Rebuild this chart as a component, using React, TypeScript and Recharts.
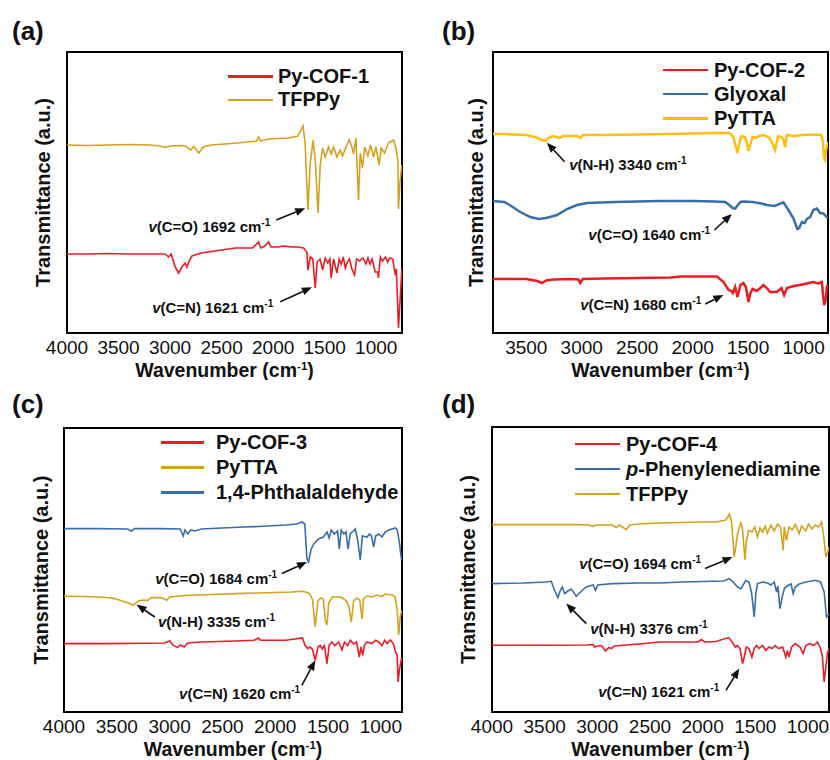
import {
  LineChart, Line, XAxis, YAxis, ReferenceArea, ReferenceLine, ReferenceDot, Legend,
} from 'recharts';

type Pt = [number, number];

const FONT = '"Liberation Sans", Arial, Helvetica, sans-serif';
const RED = '#ec1c24';
const GOLD = '#d4a21f';
const YELLOW = '#fdbf12';
const BLUE = '#3b6ea6';

const ticksWide = [4000, 3500, 3000, 2500, 2000, 1500, 1000];
const ticksNarrow = [3500, 3000, 2500, 2000, 1500, 1000];

// (a) Py-COF-1 / TFPPy
const pyCof1: Pt[] = [
  [4000, 79], [3800, 79], [3600, 79.5], [3400, 79], [3200, 79], [3050, 79], [3014, 76], [2990, 79],
  [2950, 66], [2917, 60], [2885, 66], [2853, 70], [2836, 66], [2815, 72], [2788, 77], [2700, 80],
  [2500, 83], [2367, 85], [2200, 85], [2142, 91], [2120, 85], [2080, 87], [2044, 91], [2020, 86],
  [1950, 86], [1900, 87], [1818, 86], [1760, 86], [1705, 85], [1673, 81], [1663, 63], [1640, 76],
  [1615, 74], [1592, 45], [1573, 71], [1545, 74], [1520, 63], [1495, 75], [1470, 70], [1450, 74],
  [1437, 55], [1414, 74], [1381, 60], [1360, 74], [1340, 69], [1320, 76], [1300, 65], [1280, 71],
  [1260, 74], [1236, 64], [1210, 58], [1190, 74], [1160, 72], [1130, 75], [1100, 69], [1080, 75],
  [1060, 69], [1040, 74], [1010, 61], [984, 61], [979, 55], [960, 76], [940, 72], [910, 76],
  [890, 71], [870, 75], [840, 74], [815, 58], [805, 64], [784, 5], [770, 30], [752, 63],
];
const tfppyA: Pt[] = [
  [4000, 188], [3800, 187.5], [3600, 188], [3400, 188.5], [3200, 188], [3100, 187], [3045, 185.5],
  [3000, 187], [2900, 187.5], [2850, 187], [2800, 183], [2770, 186.5], [2720, 180], [2680, 186],
  [2600, 188], [2400, 189.5], [2250, 191], [2160, 192], [2142, 196], [2120, 192], [2050, 194],
  [1950, 194.5], [1850, 195], [1760, 197], [1710, 207], [1690, 190], [1663, 123], [1640, 170],
  [1612, 193], [1590, 170], [1565, 120], [1543, 168], [1520, 185], [1495, 176], [1463, 186],
  [1437, 179], [1414, 186], [1381, 176], [1349, 183], [1327, 177], [1294, 186], [1262, 193],
  [1236, 186], [1220, 179], [1197, 195], [1172, 133], [1155, 180], [1133, 165], [1113, 186],
  [1081, 177], [1055, 188], [1026, 176], [1003, 186], [971, 168], [952, 185], [920, 180],
  [881, 190], [832, 193], [809, 185], [790, 172], [784, 124], [770, 150], [752, 168],
];

// (b) Py-COF-2 / Glyoxal / PyTTA
const pyCof2: Pt[] = [
  [3800, 54], [3700, 54], [3500, 54], [3400, 52], [3359, 50], [3320, 52.5], [3250, 53.5], [3100, 54],
  [3030, 53.5], [3014, 50], [2990, 54], [2800, 54.5], [2500, 55], [2200, 55.5], [2100, 56.5],
  [1900, 56.5], [1782, 56.5], [1722, 51], [1677, 43], [1650, 42], [1638, 40], [1617, 46], [1596, 36],
  [1570, 48], [1542, 50], [1520, 46], [1497, 31], [1482, 39], [1460, 44], [1422, 42], [1390, 45],
  [1362, 48], [1332, 45], [1302, 41], [1242, 41], [1200, 45], [1176, 38], [1150, 45], [1090, 47],
  [1032, 48], [970, 49.5], [912, 51], [870, 49.5], [836, 51], [815, 28], [800, 33], [791, 46], [780, 48],
];
const glyoxal: Pt[] = [
  [3800, 132], [3700, 131], [3650, 128], [3554, 121], [3464, 116], [3389, 114], [3320, 115],
  [3223, 118], [3133, 124], [3043, 128], [2950, 130], [2700, 131], [2293, 132], [2000, 132],
  [1800, 131.5], [1707, 131], [1670, 128], [1640, 125], [1617, 124.5], [1600, 127], [1570, 131],
  [1542, 131.5], [1460, 131], [1380, 129.5], [1332, 128], [1260, 127], [1182, 130.7], [1137, 123],
  [1092, 114.7], [1070, 108], [1056, 104], [1040, 105], [1016, 111], [990, 110], [970, 114],
  [941, 116], [912, 123], [880, 124.5], [851, 120], [822, 119.5], [780, 114.7],
];
const pyttaB: Pt[] = [
  [3800, 199], [3700, 199], [3600, 198.5], [3500, 198], [3420, 196], [3360, 193], [3329, 192],
  [3300, 195], [3260, 197], [3230, 196], [3194, 195], [3170, 197], [3100, 197], [3040, 197],
  [3014, 195], [2990, 198], [2800, 198], [2500, 198.5], [2200, 199], [2000, 199.5], [1800, 200],
  [1690, 200], [1662, 199.5], [1630, 195], [1596, 180], [1575, 192], [1557, 197], [1530, 196],
  [1510, 190], [1497, 182], [1482, 188], [1460, 196], [1430, 195], [1400, 197], [1362, 198],
  [1320, 196], [1290, 192], [1257, 183], [1230, 197], [1200, 196], [1180, 193], [1167, 186],
  [1150, 198], [1100, 197], [1000, 198], [900, 198.5], [840, 198], [827, 192], [815, 175],
  [806, 173], [797, 183], [780, 191],
];

// (c) Py-COF-3 / PyTTA / 1,4-Phthalaldehyde
const pyCof3: Pt[] = [
  [4000, 68.4], [3600, 68.4], [3200, 68.8], [3050, 69], [2997, 71], [2970, 67], [2924, 64.4],
  [2900, 67], [2880, 66], [2861, 65], [2830, 69], [2700, 70], [2380, 71], [2200, 71.7], [2159, 74],
  [2140, 71.7], [1900, 71.7], [1742, 74], [1720, 67], [1691, 63.4], [1670, 65], [1645, 62],
  [1622, 51.7], [1596, 65], [1575, 66.5], [1555, 63], [1535, 66.5], [1510, 48.4], [1490, 66.5],
  [1465, 70], [1435, 66.5], [1400, 70], [1368, 62], [1345, 70], [1315, 66.5], [1289, 71.7],
  [1260, 68], [1230, 70], [1204, 55], [1188, 65], [1172, 56.7], [1155, 67], [1130, 70],
  [1085, 68.4], [1050, 71.7], [1020, 70], [990, 66.5], [964, 71.7], [940, 68.4], [910, 72],
  [880, 68], [862, 60], [846, 57], [837, 30], [825, 42], [806, 53], [800, 54],
];
const pyttaC: Pt[] = [
  [4000, 115.7], [3800, 115.5], [3600, 114.5], [3519, 113.4], [3450, 111], [3377, 108.4],
  [3345, 106.7], [3298, 111], [3250, 112], [3210, 111.5], [3171, 114.4], [3080, 114.4],
  [3028, 111.7], [3000, 115], [2823, 116.7], [2600, 117.5], [2380, 118.4], [2159, 119],
  [2000, 119.5], [1842, 120], [1742, 120.7], [1700, 119.5], [1670, 118], [1647, 112], [1622, 85],
  [1596, 111], [1570, 114], [1545, 113], [1526, 92], [1510, 87], [1494, 109], [1460, 115],
  [1384, 115], [1350, 113], [1320, 110], [1300, 104], [1280, 90], [1258, 111], [1230, 114],
  [1200, 112], [1178, 93], [1165, 113], [1130, 116], [1085, 115], [1036, 117], [990, 115.5],
  [960, 118], [894, 117], [865, 115], [846, 103], [831, 77], [815, 96], [806, 100], [800, 101],
];
const phthalaldehyde: Pt[] = [
  [4000, 183.4], [3700, 183.4], [3400, 183], [3361, 181], [3330, 183.4], [3100, 183.4], [2900, 183],
  [2871, 176], [2855, 182], [2829, 178], [2800, 182], [2760, 181], [2700, 183], [2500, 184],
  [2300, 185], [2159, 185.5], [2080, 186], [1900, 187], [1800, 188], [1748, 190], [1720, 188],
  [1700, 153], [1685, 150], [1660, 163], [1635, 168], [1590, 173], [1545, 175], [1510, 180],
  [1490, 174], [1470, 182], [1440, 178], [1410, 181], [1394, 163], [1375, 182], [1350, 178],
  [1330, 180], [1311, 163], [1290, 178], [1260, 181], [1243, 183], [1220, 172], [1195, 152],
  [1175, 176], [1130, 175], [1109, 178], [1090, 176], [1068, 165], [1050, 176], [1020, 178],
  [989, 175], [960, 180], [926, 182], [862, 184], [845, 182], [825, 170], [806, 153], [800, 152],
];

// (d) Py-COF-4 / p-Phenylenediamine / TFPPy
const pyCof4: Pt[] = [
  [4000, 66.7], [3500, 66.7], [3100, 67], [3040, 67.5], [3027, 65], [3000, 66], [2960, 66.5],
  [2922, 61], [2890, 64.5], [2866, 63.4], [2840, 66], [2600, 68], [2410, 70], [2200, 70],
  [2045, 70], [2012, 72.5], [1980, 70], [1873, 70.5], [1754, 74.4], [1720, 70], [1690, 65],
  [1670, 66.5], [1645, 63.5], [1621, 48.4], [1605, 55], [1585, 65], [1560, 63.5], [1532, 55],
  [1510, 63.5], [1490, 66.5], [1465, 63.5], [1430, 66.5], [1400, 61.5], [1370, 65], [1340, 63.5],
  [1310, 66.5], [1280, 63.5], [1240, 65], [1210, 55], [1195, 61.5], [1180, 55], [1155, 65],
  [1120, 68.4], [1075, 65], [1046, 58.4], [1020, 66.5], [985, 68.4], [945, 66.5], [910, 70],
  [880, 63.5], [862, 55], [846, 30], [830, 45], [815, 58], [800, 64],
];
const phenylenediamine: Pt[] = [
  [4000, 128.4], [3700, 129], [3484, 130], [3437, 130.7], [3406, 121.7], [3374, 114.4], [3350, 122],
  [3333, 125], [3311, 118.4], [3280, 121], [3247, 123], [3200, 115.7], [3150, 121], [3105, 125],
  [3040, 127], [3017, 121.7], [2995, 127], [2853, 128.4], [2600, 129], [2410, 129], [2190, 130],
  [2000, 130.5], [1800, 131], [1747, 133.4], [1710, 130], [1668, 125], [1636, 123.4], [1610, 128],
  [1589, 131.5], [1560, 130], [1535, 119], [1510, 95], [1495, 118], [1479, 128.4], [1430, 130],
  [1385, 129], [1352, 127], [1320, 130], [1298, 120], [1285, 126], [1266, 103.4], [1245, 115],
  [1222, 124], [1190, 126.5], [1160, 128], [1140, 118.4], [1120, 125], [1083, 128], [1020, 130],
  [925, 131.7], [880, 130], [846, 120], [823, 95], [800, 98],
];
const tfppyD: Pt[] = [
  [4000, 187.4], [3600, 187.4], [3200, 187.4], [3080, 187], [3043, 185.7], [3010, 187], [2860, 187],
  [2821, 184.4], [2790, 187], [2726, 182.4], [2690, 187], [2600, 188], [2410, 189], [2200, 189.5],
  [2000, 190], [1873, 190], [1780, 192], [1747, 197.7], [1725, 190], [1700, 155], [1685, 165],
  [1668, 178.4], [1636, 190], [1620, 182], [1598, 152.4], [1585, 170], [1564, 181.7], [1530, 180],
  [1505, 185], [1479, 175], [1455, 184], [1430, 180], [1405, 186], [1385, 179], [1352, 186.7],
  [1320, 181], [1289, 188], [1260, 185], [1235, 161.7], [1225, 185], [1204, 171.7], [1180, 185],
  [1150, 182], [1120, 187.5], [1083, 178.4], [1060, 186], [1020, 181], [995, 188], [960, 183],
  [930, 187], [900, 185], [870, 190], [846, 172], [830, 155], [812, 160], [800, 165],
];

interface Series { name: string; color: string; points: Pt[] }
interface Note { bond: string; wn: string; tail: Pt; head: Pt; text: Pt; anchor: 'start' | 'end' }

const notesA: Note[] = [
  { bond: 'C=O', wn: '1692', tail: [1970, 113], head: [1689, 124.7], text: [2028, 101.5], anchor: 'end' },
  { bond: 'C=N', wn: '1621', tail: [1931, 31.3], head: [1624, 45.7], text: [1999, 19.7], anchor: 'end' },
];
const notesB: Note[] = [
  { bond: 'N-H', wn: '3340', tail: [3155, 171.3], head: [3314, 190.3], text: [3113, 163], anchor: 'start' },
  { bond: 'C=O', wn: '1640', tail: [1804, 103], head: [1647, 119], text: [1842, 93], anchor: 'end' },
  { bond: 'C=N', wn: '1680', tail: [1887, 29], head: [1723, 38], text: [1923, 23], anchor: 'end' },
];
const notesC: Note[] = [
  { bond: 'C=O', wn: '1684', tail: [1937, 138.4], head: [1700, 150], text: [1982, 128.4], anchor: 'end' },
  { bond: 'N-H', wn: '3335', tail: [3140, 95], head: [3313, 107.4], text: [3111, 85], anchor: 'start' },
  { bond: 'C=N', wn: '1620', tail: [1748, 26.7], head: [1621, 51.7], text: [1764, 13.4], anchor: 'end' },
];
const notesD: Note[] = [
  { bond: 'C=O', wn: '1694', tail: [1977, 143.4], head: [1716, 155], text: [2015, 143], anchor: 'end' },
  { bond: 'N-H', wn: '3376', tail: [3105, 88.4], head: [3295, 108.4], text: [3067, 78.4], anchor: 'start' },
  { bond: 'C=N', wn: '1621', tail: [1778, 21.7], head: [1652, 43.4], text: [1842, 15], anchor: 'end' },
];

const toRows = (pts: Pt[]) => pts.map(([wn, v]) => ({ wn, v }));

function Arrow({ x1, y1, x2, y2 }: any) {
  const ang = Math.atan2(y2 - y1, x2 - x1);
  const len = 10;
  const half = 4;
  const bx = x2 - len * Math.cos(ang);
  const by = y2 - len * Math.sin(ang);
  const pts = [
    [x2, y2],
    [bx - half * Math.sin(ang), by + half * Math.cos(ang)],
    [bx + half * Math.sin(ang), by - half * Math.cos(ang)],
  ].map((p) => p.join(',')).join(' ');
  return (
    <g>
      <line x1={x1} y1={y1} x2={bx} y2={by} stroke="#111" strokeWidth={1.6} />
      <polygon points={pts} fill="#111" />
    </g>
  );
}

function NoteText({ cx, cy, note }: any) {
  return (
    <text x={cx} y={cy} textAnchor={note.anchor} fontFamily={FONT} fontSize={15} fontWeight="bold" fill="#111">
      <tspan fontStyle="italic">v</tspan>
      <tspan>{`(${note.bond}) ${note.wn} cm`}</tspan>
      <tspan dy={-6} fontSize={10}>-1</tspan>
    </text>
  );
}

interface PanelProps {
  tag: string;
  left: number;
  top: number;
  plot: { l: number; t: number; r: number; b: number };
  xDomain: [number, number];
  yMax: number;
  ticks: number[];
  series: Series[];
  notes: Note[];
  strokeWidth: number;
  legend: { x: number; y: number; rowH: number; lineW: number; gap: number };
  yTitleX: number;
  xTitleShift: number;
  tagX: number;
  tagY: number;
}

function Panel(p: PanelProps) {
  const width = 415;
  const height = 380;
  const axisH = p.top + height - p.plot.b;
  const axisW = p.plot.l - p.left;
  const midX = (p.plot.l + p.plot.r) / 2 - p.left + p.xTitleShift;
  const midY = (p.plot.t + p.plot.b) / 2 - p.top;

  const xTitle = () => (
    <text x={midX} y={p.plot.b - p.top + 44} textAnchor="middle" fontFamily={FONT} fontSize={19.5} fontWeight="bold" fill="#111">
      <tspan>Wavenumber (cm</tspan>
      <tspan dy={-7} fontSize={11.5}>-1</tspan>
      <tspan dy={7}>)</tspan>
    </text>
  );
  const yTitle = () => (
    <text
      x={p.yTitleX - p.left}
      y={midY}
      transform={`rotate(-90 ${p.yTitleX - p.left} ${midY})`}
      textAnchor="middle"
      fontFamily={FONT}
      fontSize={20}
      fontWeight="bold"
      fill="#111"
    >
      Transmittance (a.u.)
    </text>
  );

  const legendBox = () => (
    <div style={{ fontFamily: FONT }}>
      {p.series.map((s) => (
        <div key={s.name} style={{ display: 'flex', alignItems: 'center', height: p.legend.rowH }}>
          <span style={{ display: 'inline-block', width: p.legend.lineW, height: 2.5, background: s.color }} />
          <span style={{ marginLeft: p.legend.gap, fontSize: 20, fontWeight: 'bold', color: '#111', lineHeight: `${p.legend.rowH}px`, whiteSpace: 'nowrap' }}>
            {s.name.startsWith('p-') ? <><i>p</i>{s.name.slice(1)}</> : s.name}
          </span>
        </div>
      ))}
    </div>
  );

  return (
    <div style={{ position: 'absolute', left: p.left, top: p.top, width, height }}>
      <LineChart
        width={width}
        height={height}
        margin={{ top: p.plot.t - p.top, right: p.left + width - p.plot.r, bottom: 0, left: 0 }}
      >
        <XAxis
          type="number"
          dataKey="wn"
          domain={p.xDomain}
          reversed
          allowDataOverflow
          ticks={p.ticks}
          interval={0}
          axisLine={false}
          tickLine={false}
          height={axisH}
          tick={{ fontSize: 19, fill: '#111', fontFamily: FONT }}
          label={xTitle}
        />
        <YAxis
          type="number"
          domain={[0, p.yMax]}
          allowDataOverflow
          tick={false}
          axisLine={false}
          tickLine={false}
          width={axisW}
          label={yTitle}
        />
        <ReferenceArea
          x1={p.xDomain[0]}
          x2={p.xDomain[1]}
          y1={0}
          y2={p.yMax}
          fill="none"
          fillOpacity={0}
          stroke="#000"
          strokeWidth={2}
        />
        {p.series.map((s) => (
          <Line
            key={s.name}
            name={s.name}
            data={toRows(s.points)}
            dataKey="v"
            type="linear"
            stroke={s.color}
            strokeWidth={p.strokeWidth}
            dot={false}
            activeDot={false}
            isAnimationActive={false}
          />
        ))}
        {p.notes.map((n) => (
          <ReferenceLine
            key={`l-${n.wn}`}
            segment={[{ x: n.tail[0], y: n.tail[1] }, { x: n.head[0], y: n.head[1] }]}
            ifOverflow="visible"
            shape={(sp: any) => <Arrow {...sp} />}
          />
        ))}
        {p.notes.map((n) => (
          <ReferenceDot
            key={`t-${n.wn}`}
            x={n.text[0]}
            y={n.text[1]}
            ifOverflow="visible"
            shape={(dp: any) => <NoteText cx={dp.cx} cy={dp.cy} note={n} />}
          />
        ))}
        <Legend
          layout="horizontal"
          verticalAlign="middle"
          align="center"
          wrapperStyle={{
            top: p.legend.y - p.top - p.legend.rowH / 2,
            left: p.legend.x - p.left,
            width: 'auto',
            height: 'auto',
          }}
          content={legendBox}
        />
      </LineChart>
      <div
        style={{
          position: 'absolute',
          left: p.tagX - p.left,
          top: p.tagY - p.top - 22,
          fontFamily: FONT,
          fontSize: 26,
          fontWeight: 'bold',
          lineHeight: '26px',
          color: '#111',
        }}
      >
        {p.tag}
      </div>
    </div>
  );
}

export default function App() {
  return (
    <div style={{ position: 'absolute', left: 0, top: 0, width: 830, height: 760, background: '#fff', overflow: 'hidden' }}>
      <Panel
        tag="(a)"
        left={0}
        top={0}
        plot={{ l: 67, t: 52, r: 402, b: 333 }}
        xDomain={[750, 4000]}
        yMax={281}
        ticks={ticksWide}
        series={[
          { name: 'Py-COF-1', color: RED, points: pyCof1 },
          { name: 'TFPPy', color: GOLD, points: tfppyA },
        ]}
        notes={notesA}
        strokeWidth={1.6}
        legend={{ x: 228, y: 76.7, rowH: 23.3, lineW: 45, gap: 5 }}
        yTitleX={50}
        xTitleShift={-10}
        tagX={12}
        tagY={40}
      />
      <Panel
        tag="(b)"
        left={415}
        top={0}
        plot={{ l: 493, t: 52, r: 828, b: 333 }}
        xDomain={[780, 3800]}
        yMax={281}
        ticks={ticksNarrow}
        series={[
          { name: 'Py-COF-2', color: RED, points: pyCof2 },
          { name: 'Glyoxal', color: BLUE, points: glyoxal },
          { name: 'PyTTA', color: YELLOW, points: pyttaB },
        ]}
        notes={notesB}
        strokeWidth={2.5}
        legend={{ x: 663, y: 70, rowH: 24.2, lineW: 45, gap: 6 }}
        yTitleX={483}
        xTitleShift={0}
        tagX={442}
        tagY={40}
      />
      <Panel
        tag="(c)"
        left={0}
        top={380}
        plot={{ l: 64, t: 428, r: 402, b: 712 }}
        xDomain={[800, 4000]}
        yMax={284}
        ticks={ticksWide}
        series={[
          { name: 'Py-COF-3', color: RED, points: pyCof3 },
          { name: 'PyTTA', color: GOLD, points: pyttaC },
          { name: '1,4-Phthalaldehyde', color: BLUE, points: phthalaldehyde },
        ]}
        notes={notesC}
        strokeWidth={1.6}
        legend={{ x: 161, y: 442.7, rowH: 24.8, lineW: 43, gap: 12 }}
        yTitleX={48}
        xTitleShift={0}
        tagX={12}
        tagY={413}
      />
      <Panel
        tag="(d)"
        left={415}
        top={380}
        plot={{ l: 492, t: 427, r: 829, b: 712 }}
        xDomain={[800, 4000]}
        yMax={285}
        ticks={ticksWide}
        series={[
          { name: 'Py-COF-4', color: RED, points: pyCof4 },
          { name: 'p-Phenylenediamine', color: BLUE, points: phenylenediamine },
          { name: 'TFPPy', color: GOLD, points: tfppyD },
        ]}
        notes={notesD}
        strokeWidth={1.6}
        legend={{ x: 575, y: 444, rowH: 25, lineW: 45, gap: 6 }}
        yTitleX={475}
        xTitleShift={0}
        tagX={442}
        tagY={413}
      />
    </div>
  );
}
